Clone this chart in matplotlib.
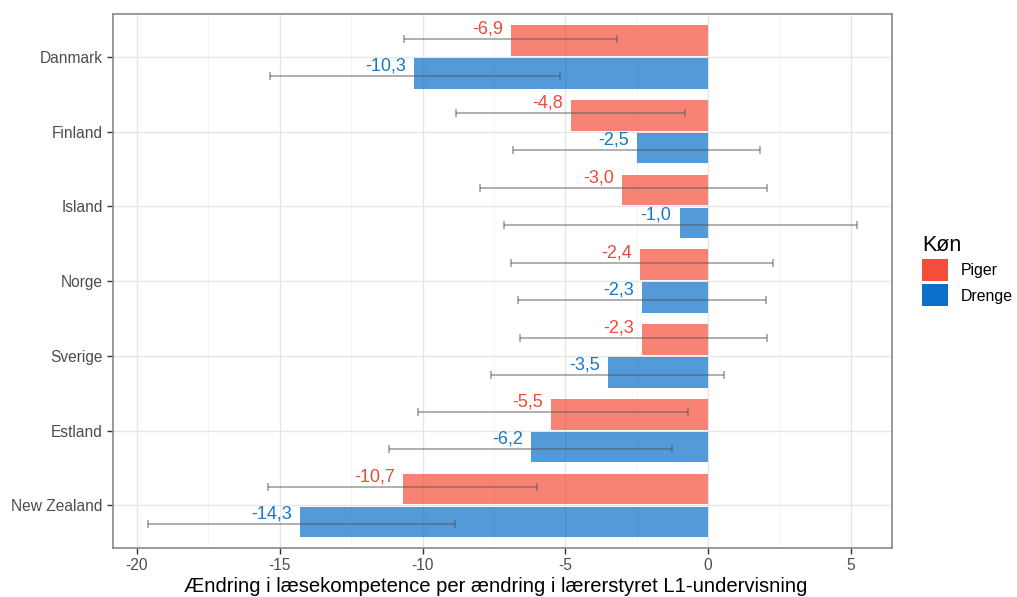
import matplotlib
matplotlib.use("Agg")
import matplotlib.pyplot as plt
from matplotlib.patches import Patch
import numpy as np

plt.rcParams['font.family'] = ['Liberation Sans', 'DejaVu Sans']
plt.rcParams['axes.unicode_minus'] = False

# data
lande = ["Danmark", "Finland", "Island", "Norge", "Sverige", "Estland", "New Zealand"]
piger = [-6.9, -4.8, -3.0, -2.4, -2.3, -5.5, -10.7]
piger_lav = [-10.65, -8.83, -7.99, -6.90, -6.58, -10.16, -15.41]
piger_hoj = [-3.19, -0.81, 2.07, 2.28, 2.07, -0.70, -5.99]
drenge = [-10.3, -2.5, -1.0, -2.3, -3.5, -6.2, -14.3]
drenge_lav = [-15.34, -6.83, -7.15, -6.65, -7.60, -11.17, -19.61]
drenge_hoj = [-5.18, 1.82, 5.22, 2.03, 0.56, -1.26, -8.86]
xticks = [-20, -15, -10, -5, 0, 5]

rod = "#F44E3B"
blaa = "#0A6FC9"
rod_txt = "#EC4B38"
blaa_txt = "#1777C8"

fig = plt.figure(figsize=(10.17, 5.97), dpi=100)
ax = fig.add_axes([113/1017, 1-548/597, (892-113)/1017, (548-14)/597])

y = np.arange(len(lande))
bh = 0.41
yp = y - 0.22
yd = y + 0.22
ep_y = y - 0.245
ed_y = y + 0.25

ax.barh(yp, piger, height=bh, color=rod, alpha=0.7, zorder=2)
ax.barh(yd, drenge, height=bh, color=blaa, alpha=0.7, zorder=2)

# fejlstreger
ep = [np.array(piger) - np.array(piger_lav), np.array(piger_hoj) - np.array(piger)]
ed = [np.array(drenge) - np.array(drenge_lav), np.array(drenge_hoj) - np.array(drenge)]
ax.errorbar(piger, ep_y, xerr=ep, fmt='none', ecolor='#555555', alpha=0.55,
            elinewidth=1.2, capsize=3, capthick=1.2, zorder=3)
ax.errorbar(drenge, ed_y, xerr=ed, fmt='none', ecolor='#555555', alpha=0.55,
            elinewidth=1.2, capsize=3, capthick=1.2, zorder=3)

# tal ved sojlerne
for i in range(len(lande)):
    ax.annotate(("%.1f" % piger[i]).replace('.', ','), (piger[i], ep_y[i] - 0.135),
                xytext=(-8, 0), textcoords='offset pixels', ha='right', va='center',
                color=rod_txt, fontsize=13, zorder=4)
    ax.annotate(("%.1f" % drenge[i]).replace('.', ','), (drenge[i], ed_y[i] - 0.135),
                xytext=(-8, 0), textcoords='offset pixels', ha='right', va='center',
                color=blaa_txt, fontsize=13, zorder=4)

ax.set_xlim(-20.84, 6.44)
ax.set_ylim(len(lande) - 1 + 0.57, -0.575)
ax.set_yticks(y)
ax.set_yticklabels(lande)
ax.set_xticks(xticks)
ax.set_xticklabels([str(t) for t in xticks])
ax.set_xticks([-17.5, -12.5, -7.5, -2.5, 2.5], minor=True)
ax.grid(True, which='major', color='#E6E6E6', linewidth=1.0, zorder=0)
ax.grid(True, which='minor', axis='x', color='#F2F2F2', linewidth=0.6, zorder=0)
ax.set_axisbelow(True)
for s in ax.spines.values():
    s.set_color('#7F7F7F')
    s.set_linewidth(1.1)
ax.tick_params(axis='both', which='major', colors='#333333', labelcolor='#4D4D4D',
               labelsize=11.2, length=4, width=1)
ax.tick_params(axis='x', which='minor', length=0)
ax.set_xlabel("Ændring i læsekompetence per ændring i lærerstyret L1-undervisning",
              fontsize=14.6, color='black', labelpad=1)
ax.xaxis.set_label_coords(0.491, -0.054, transform=ax.transAxes)
ax.xaxis.label.set_va('top')

handles = [Patch(facecolor=rod, edgecolor='none'), Patch(facecolor=blaa, edgecolor='none')]
leg = fig.legend(handles, ["Piger", "Drenge"], title="Køn", loc='upper left',
                 bbox_to_anchor=(908/1017, 1-221/597), frameon=False,
                 handlelength=1.63, handleheight=1.75, handletextpad=0.8,
                 labelspacing=0.2, fontsize=11.4, title_fontsize=15.5)
leg._legend_box.align = "left"

fig.savefig("out.png", dpi=100)
